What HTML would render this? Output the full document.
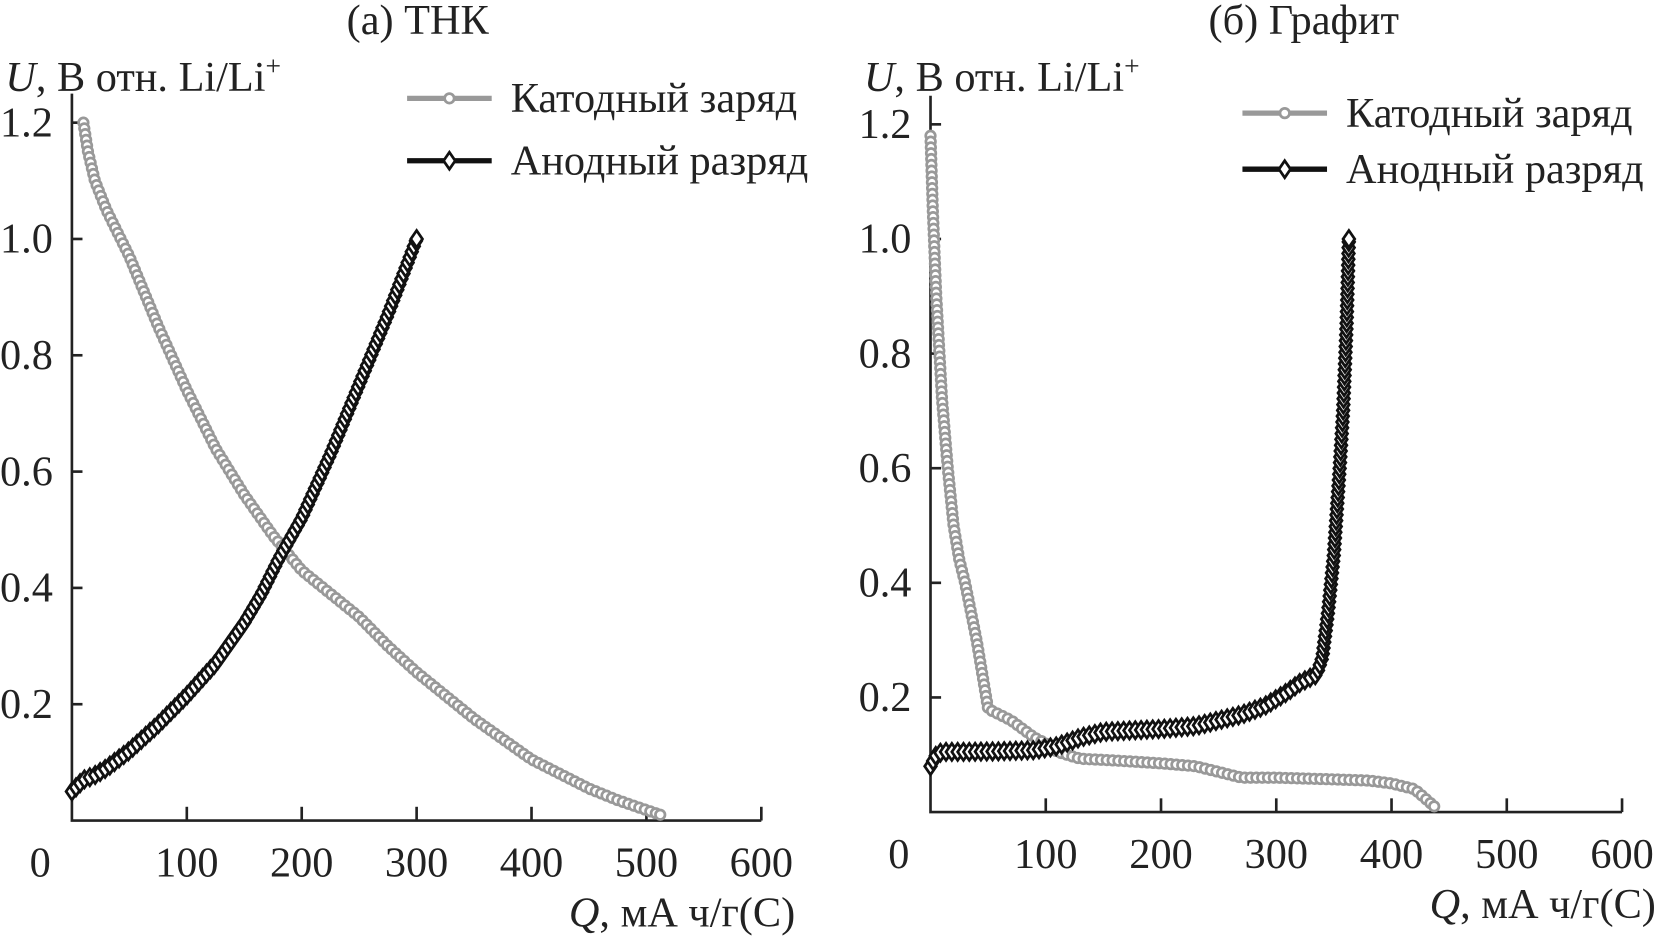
<!DOCTYPE html>
<html><head><meta charset="utf-8"><style>
body{margin:0;background:#fff}
svg{display:block;font-family:"Liberation Serif",serif}
</style></head><body>
<svg id="c" width="1658" height="936" viewBox="0 0 1568 885.2"></svg>
<script>
const xTicks=[0,100,200,300,400,500,600];
const yTicks=[0.2,0.4,0.6,0.8,1.0,1.2];
const yTickLabels=["0.2","0.4","0.6","0.8","1.0","1.2"];
const aCathQ=[10,14,20,30,50,75,100,125,150,175,200,225,250,275,300,325,350,375,400,425,450,475,500,512];
const aCathU=[1.2,1.15,1.1,1.05,0.97,0.85,0.74,0.64,0.56,0.49,0.43,0.39,0.35,0.3,0.255,0.215,0.175,0.14,0.105,0.08,0.055,0.035,0.018,0.01];
const aAnQ=[0,5,10,20,30,50,75,100,125,150,165,180,200,225,250,275,300];
const aAnU=[0.05,0.06,0.07,0.078,0.09,0.12,0.165,0.215,0.27,0.34,0.39,0.45,0.52,0.63,0.75,0.87,1.0];
const bCathQ=[0,2,5,10,15,20,25,30,40,45,50,60,70,80,90,100,110,130,160,200,230,250,270,300,350,380,400,420,437];
const bCathU=[1.18,1.05,0.9,0.72,0.6,0.5,0.44,0.4,0.3,0.24,0.18,0.17,0.16,0.145,0.13,0.12,0.105,0.093,0.09,0.085,0.08,0.07,0.06,0.06,0.057,0.055,0.05,0.04,0.01];
const bAnQ=[0,5,10,30,60,90,110,130,150,170,200,230,250,270,290,310,320,335,340,345,350,355,358,361,363];
const bAnU=[0.08,0.1,0.105,0.105,0.106,0.108,0.115,0.13,0.14,0.142,0.145,0.15,0.16,0.17,0.185,0.21,0.225,0.24,0.27,0.35,0.45,0.6,0.7,0.85,1.0];
const NS="http://www.w3.org/2000/svg";
const svg=document.getElementById('c');
function el(t,a,p){const e=document.createElementNS(NS,t);for(const k in a)e.setAttribute(k,a[k]);(p||svg).appendChild(e);return e;}
function panel(id,x0,y0,xpx,ypx,title,titleX,cath,an,leg){
  const g=el('g',{});
  
  
  const X=q=>x0+q*xpx, Y=u=>y0-u*ypx;
  const ax=el('path',{d:`M${X(0)},${Y(1.25)}V${y0}H${X(600)}`,stroke:'#222','stroke-width':2.5,fill:'none'},g);
  
  
  xTicks.forEach(v=>{
    if(v>0){const t=el('line',{x1:X(v),x2:X(v),y1:y0,y2:y0-13,stroke:'#222','stroke-width':2.5},g);
    
    }
    const tx=el('text',{x:v==0?X(0)-30:X(v),y:y0+53,'font-size':40,'text-anchor':'middle',fill:'#222'},g);
    tx.textContent=v;
    
    
  });
  yTicks.forEach((v,i)=>{
    const t=el('line',{x1:X(0),x2:X(0)+10,y1:Y(v),y2:Y(v),stroke:'#222','stroke-width':2.5},g);
    
    
    const tx=el('text',{x:X(0)-18,y:Y(v)+13,'font-size':40,'text-anchor':'end',fill:'#222'},g);
    tx.textContent=yTickLabels[i];
    
    
  });
  const tt=el('text',{x:titleX,y:32,'font-size':40,'text-anchor':'middle',fill:'#222'},g);
  tt.textContent=title;
  
  
  const yt=el('text',{x:X(0)-63,y:86,'font-size':40,fill:'#222'},g);
  yt.innerHTML='<tspan font-style="italic">U</tspan>, В отн. Li/Li<tspan dy="-15" font-size="26">+</tspan>';
  
  
  const xt=el('text',{x:X(600)+32,y:y0+100,'font-size':40,'text-anchor':'end',fill:'#222'},g);
  xt.innerHTML='<tspan font-style="italic">Q</tspan>, мА ч/г(С)';
  
  
  function series(Q,U,color,shape,name){
    const d=Q.map((q,i)=>(i?'L':'M')+X(q)+','+Y(U[i])).join('');
    const p=el('path',{d,stroke:color,'stroke-width':3,fill:'none'},g);
    
    
    const L=p.getTotalLength();const step=5.5;
    for(let s=0;s<=L;s+=step){const pt=p.getPointAtLength(s);mark(pt.x,pt.y,color,shape,name);}
    const pe=p.getPointAtLength(L);mark(pe.x,pe.y,color,shape,name);
  }
  function mark(x,y,color,shape,name){
    let m;
    if(shape=='c')m=el('circle',{cx:x,cy:y,r:4.5,fill:'#fff',stroke:color,'stroke-width':2.6},g);
    else m=el('path',{d:`M${x},${y-8}L${x+5.5},${y}L${x},${y+8}L${x-5.5},${y}Z`,fill:'#fff',stroke:color,'stroke-width':2.6},g);
    
    
  }
  series(cath[0],cath[1],'#999','c','cathode-charge');
  series(an[0],an[1],'#111','d','anode-discharge');
  [[leg[1],'#999','c','Катодный заряд'],[leg[2],'#111','d','Анодный разряд']].forEach(([ly,c,s,txt])=>{
    const l=el('line',{x1:leg[0],x2:leg[0]+80,y1:ly,y2:ly,stroke:c,'stroke-width':5},g);
    
    
    mark(leg[0]+40,ly,c,s,'legend');
    const t=el('text',{x:leg[0]+98,y:ly+13,'font-size':40,fill:'#222'},g);
    t.textContent=txt;
    
    
  });
}
panel('tnk',68,776,652/600,550,'(а) ТНК',395,[aCathQ,aCathU],[aAnQ,aAnU],[385,93,152]);
panel('graphite',880,768,654/600,542,'(б) Графит',1233,[bCathQ,bCathU],[bAnQ,bAnU],[1175,107,160]);
</script>
</body></html>
